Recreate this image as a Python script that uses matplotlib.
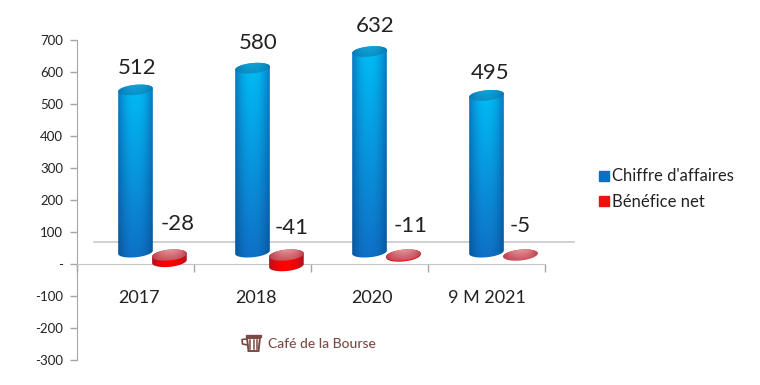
import numpy as np
from matplotlib import pyplot as plt
from matplotlib.lines import Line2D
from matplotlib.patches import Polygon, Rectangle

plt.rcParams["font.family"] = ["Lato", "DejaVu Sans"]

categories = ["2017", "2018", "2020", "9 M 2021"]
revenue = [512, 580, 632, 495]
net_income = [-28, -41, -11, -5]
y_ticks = [700, 600, 500, 400, 300, 200, 100, 0, -100, -200, -300]
y_labels = ["700", "600", "500", "400", "300", "200", "100", "-", "-100", "-200", "-300"]
# where the value labels sit, they are not aligned on the bars in the original
revenue_label_y = [612, 690, 744, 597]
revenue_label_dx = [0.013, 0.047, 0.047, 0.03]
income_label_y = [125, 112, 119, 119]
income_label_dx = [0.363, 0.338, 0.355, 0.286]
cat_label_dx = [0.026, 0.026, 0.022, 0.0]


def cyl_outline(cx, y_top, y_bot, a, b, tilt):
    t = np.linspace(0, np.pi, 40)
    # bottom half of the lower ellipse, then the top edge of the upper one
    xb = cx - a * np.cos(t)
    yb = y_bot - b * np.sin(t) + tilt * (xb - cx) / a
    xt = cx + a * np.cos(t)
    yt = y_top + b * np.sin(t) + tilt * (xt - cx) / a
    return np.column_stack([np.r_[xb, xt], np.r_[yb, yt]])


def ellipse_pts(cx, cy, a, b, tilt):
    t = np.linspace(0, 2 * np.pi, 80)
    x = cx + a * np.cos(t)
    return np.column_stack([x, cy + b * np.sin(t) + tilt * (x - cx) / a])


def shaded(ax, pts, x0, x1, y_hi, y_lo, edge, mid_top, mid_bot, edge_bot=None, z=3):
    # horizontal shading mixed with a vertical fade, clipped to the shape
    if edge_bot is None:
        edge_bot = edge
    nx, ny = 60, 60
    u = np.abs(np.linspace(-1, 1, nx)) ** 2.2
    v = np.linspace(0, 1, ny)[:, None, None]
    u = u[None, :, None]
    edge, edge_bot = np.array(edge)[None, None], np.array(edge_bot)[None, None]
    mid_top, mid_bot = np.array(mid_top)[None, None], np.array(mid_bot)[None, None]
    mid = mid_top * (1 - v) + mid_bot * v
    side = edge * (1 - v) + edge_bot * v
    img = (mid * (1 - u) + side * u) / 255
    im = ax.imshow(img, extent=(x0, x1, y_lo, y_hi), origin="upper", aspect="auto",
                   interpolation="bilinear", zorder=z)
    patch = Polygon(pts, closed=True, transform=ax.transData, fc="none", ec="none")
    ax.add_patch(patch)
    im.set_clip_path(patch)


fig = plt.figure(figsize=(7.6, 3.85), dpi=100)
ax = fig.add_axes([77 / 760, 1 - 360 / 385, 468 / 760, 320 / 385])
ax.patch.set_alpha(0)

a = 0.148
for i in range(len(categories)):
    cx = i + 0.5
    top = revenue[i] + 32
    bot = 37
    b, tilt = 16, 5
    shaded(ax, cyl_outline(cx, top, bot, a, b, tilt), cx - a, cx + a, top + 25, bot - 20,
           (10, 120, 195), (0, 190, 245), (15, 112, 198), (8, 85, 155))
    shaded(ax, ellipse_pts(cx, top, a, b, tilt), cx - a, cx + a, top + 25, top - 25,
           (5, 120, 180), (20, 165, 215), (10, 140, 195), z=4)

    rx = cx + 0.29
    rtop = 28
    rbot = 28 + net_income[i] + 8
    rb, rtilt = 17, 5
    shaded(ax, cyl_outline(rx, rtop, rbot, a, rb, rtilt), rx - a, rx + a, rtop + 20, rbot - 20,
           (170, 20, 30), (250, 10, 10), (255, 0, 0), z=5)
    shaded(ax, ellipse_pts(rx, rtop, a, rb, rtilt), rx - a, rx + a, rtop + 18, rtop - 18,
           (190, 60, 75), (225, 150, 155), (200, 80, 90), z=6)

    ax.text(cx + revenue_label_dx[i], revenue_label_y[i], str(revenue[i]), ha="center", va="center",
            fontsize=16, color="#222222", zorder=8)
    ax.text(cx + income_label_dx[i], income_label_y[i], str(net_income[i]), ha="center", va="center",
            fontsize=16, color="#222222", zorder=8)
    ax.text(cx + cat_label_dx[i], -106, categories[i], ha="center", va="center",
            fontsize=13, color="#222222", zorder=8)

# back wall line of the 3D box
ax.plot([0.145, 4.25], [69, 69], color="#c4c4c4", lw=1.1, zorder=1, clip_on=False)

ax.set_xlim(0, 4)
ax.set_ylim(-300, 700)
ax.set_yticks(y_ticks)
ax.set_yticklabels(y_labels, fontsize=9.5, color="#222222")
ax.set_xticks(range(5))
ax.set_xticklabels([])
ax.tick_params(axis="y", length=5, color="#a6a6a6", width=1, pad=5)
ax.tick_params(axis="x", length=6, color="#a6a6a6", width=1, direction="out")
for s in ["top", "right"]:
    ax.spines[s].set_visible(False)
ax.spines["left"].set_color("#a6a6a6")
ax.spines["bottom"].set_color("#c4c4c4")
ax.spines["bottom"].set_position(("data", 0))

handles = [
    Line2D([], [], ls="none", marker="s", ms=7, color="#0a70c0"),
    Line2D([], [], ls="none", marker="s", ms=7, color="#f01010"),
]
fig.legend(handles, ["Chiffre d'affaires", "Bénéfice net"], loc="center left",
           bbox_to_anchor=(579 / 760, 1 - 189 / 385), frameon=False, fontsize=12,
           labelcolor="#222222", handletextpad=-0.1, labelspacing=0.55, handlelength=1.2)

# logo
brown = "#7b4a45"
fig.text(268 / 760, 1 - 344 / 385, "Café de la Bourse", fontsize=10, color=brown,
         va="center", ha="left", fontweight="medium")
logo = fig.add_axes([240 / 760, 1 - 353 / 385, 24 / 760, 20 / 385])
logo.set_xlim(0, 24)
logo.set_ylim(20, 0)
logo.axis("off")
logo.add_patch(Rectangle((6, 2), 15, 1.6, color=brown))
logo.add_patch(Polygon([(7, 5), (20, 5), (18.5, 18), (8.5, 18)], closed=True, fc="none", ec=brown, lw=1.4))
for xv in [10, 13.5, 17]:
    logo.plot([xv, xv], [6.5, 16], color=brown, lw=1.1)
logo.plot([6.5, 2, 2.5, 7.5], [6, 6.5, 11, 12], color=brown, lw=1.2)

fig.savefig("out.png", dpi=100)
